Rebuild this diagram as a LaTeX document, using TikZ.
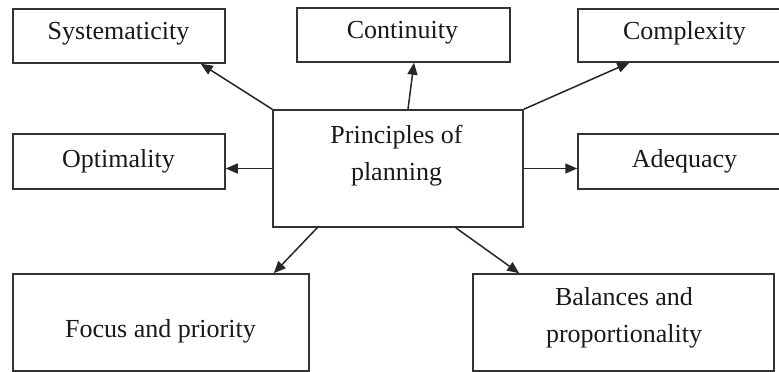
\documentclass[tikz,border=0pt]{standalone}
\usepackage{fontspec}
\setmainfont{Liberation Serif}
\usetikzlibrary{arrows.meta,calc}
\begin{document}
\begin{tikzpicture}[x=1pt,y=-1pt,
  box/.style={draw=black!80,line width=1.5pt,inner sep=0pt,rectangle},
  txt/.style={inner sep=0pt,anchor=base,font=\fontsize{26}{37}\selectfont,text=black!90},
  conn/.style={draw=black!85,line width=1.5pt,-{Triangle[length=12pt,width=10pt]}}]
\useasboundingbox (0,0) rectangle (779,372);
\fill[white] (0,0) rectangle (779,372);
% boxes
\node[box,minimum width=212pt,minimum height=54pt] (sys) at (119,36) {};
\node[box,minimum width=213pt,minimum height=54pt] (cont) at (403.5,35) {};
\node[box,minimum width=206pt,minimum height=53pt] (comp) at (681,35.5) {};
\node[box,minimum width=212pt,minimum height=55pt] (opt) at (119,161.5) {};
\node[box,minimum width=206pt,minimum height=55pt] (adeq) at (681,161.5) {};
\node[box,minimum width=250pt,minimum height=117pt] (main) at (398,168.5) {};
\node[box,minimum width=296pt,minimum height=97pt] (focus) at (161,322.5) {};
\node[box,minimum width=301pt,minimum height=97pt] (bal) at (623.5,322.5) {};
% texts
\node[txt] (tsys) at (118.5,39) {Systematicity};
\node[txt] (tcont) at (402.5,38) {Continuity};
\node[txt] (tcomp) at (684.5,39) {Complexity};
\node[txt] (topt) at (118.5,167) {Optimality};
\node[txt] (tadeq) at (684.5,167) {Adequacy};
\node[txt] (tmain1) at (396.5,143) {Principles of};
\node[txt] (tmain2) at (396.5,180) {planning};
\node[txt] (tfocus) at (160.5,337) {Focus and priority};
\node[txt] (tbal1) at (624,305) {Balances and};
\node[txt] (tbal2) at (624,342) {proportionality};
% connectors
\draw[conn] (main.north west) -- ($(sys.south east)+(-25,0)$);
\draw[conn] ($(main.north)+(10,0)$) -- ($(cont.south)+(10.5,0)$);
\draw[conn] (main.north east) -- ($(comp.south west)+(52,0)$);
\draw[conn] (main.west) -- (opt.east |- main.west);
\draw[conn] (main.east) -- (adeq.west |- main.east);
\draw[conn] ($(main.south west)+(45,0)$) -- ($(focus.north east)+(-36,0)$);
\draw[conn] ($(main.south east)+(-68,0)$) -- ($(bal.north west)+(47,0)$);
\end{tikzpicture}
\end{document}
